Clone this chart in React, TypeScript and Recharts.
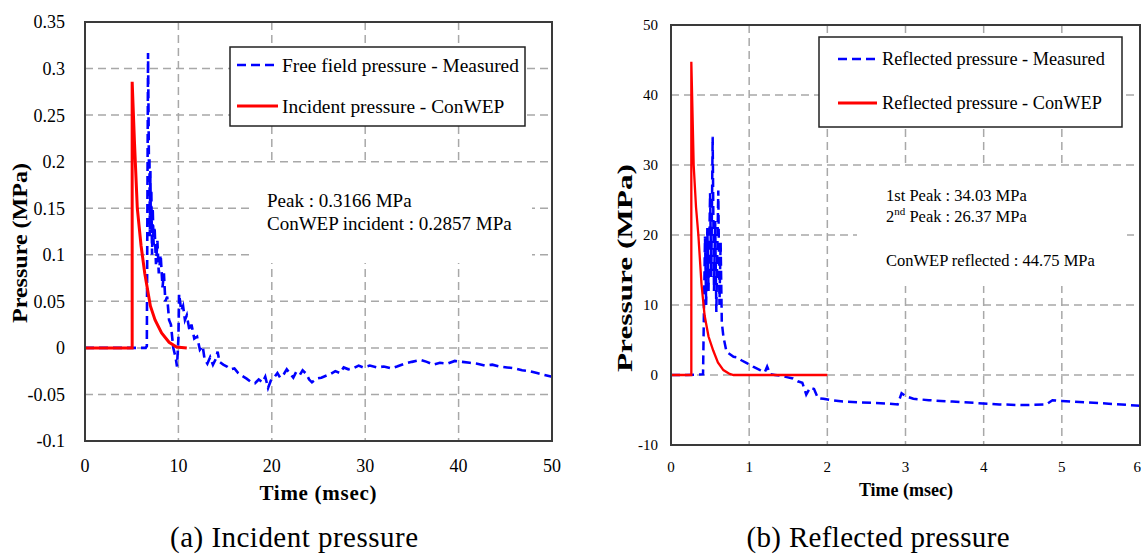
import React from "react";
import { LineChart, Line, XAxis, YAxis, CartesianGrid, Legend } from "recharts";

const FONT = '"Liberation Serif", "Times New Roman", Times, serif';
const BLUE = "#0000ff";
const RED = "#ff0000";
const GRID = "#a8a8a8";
const FRAME = "#3a3a3a";

// ---- (a) incident pressure: time in msec, pressure in MPa
const incidentXTicks = [0, 10, 20, 30, 40, 50];
const incidentYTicks = [-0.1, -0.05, 0, 0.05, 0.1, 0.15, 0.2, 0.25, 0.3, 0.35];

const freeFieldTime = [
  0, 6.5, 6.62, 6.75, 6.85, 6.9, 6.95, 7.0, 7.05, 7.1, 7.18, 7.25, 7.35, 7.45, 7.6, 7.75, 7.9, 8.1, 8.3,
  8.45, 8.6, 8.8, 9.0, 9.2, 9.45, 9.7, 9.85, 10.0, 10.08, 10.3, 10.5, 10.7, 10.9, 11.2, 11.4, 11.7,
  12.0, 12.3, 12.6, 12.8, 13.1, 13.4, 13.7, 14.0, 14.2, 14.4, 14.8, 15.2, 15.6, 16.0, 16.4, 16.8,
  17.3, 17.7, 18.2, 18.6, 19.0, 19.3, 19.6, 19.9, 20.3, 20.6, 20.9, 21.3, 21.6, 21.9, 22.3, 22.6,
  23.0, 23.3, 23.7, 24.0, 24.3, 24.8, 25.3, 25.8, 26.3, 26.8, 27.3, 27.7, 28.2, 28.7, 29.3, 29.8,
  30.5, 31.3, 32.0, 32.8, 33.4, 34.2, 35.0, 35.9, 36.6, 37.3, 38.0, 38.8, 39.6, 40.4, 41.2, 42.0,
  42.8, 43.6, 44.4, 45.2, 46.0, 46.8, 47.6, 48.4, 49.2, 50.0,
];
const freeFieldPressure = [
  0, 0, 0.002, 0.3166, 0.19, 0.205, 0.12, 0.19, 0.13, 0.17, 0.1, 0.15, 0.11, 0.13, 0.09, 0.115, 0.08,
  0.1, 0.065, 0.08, 0.05, 0.055, 0.03, 0.025, 0.0, -0.01, -0.02, 0.01, 0.058, 0.04, 0.045, 0.03,
  0.035, 0.018, 0.025, 0.01, 0.012, -0.002, 0.002, -0.012, -0.017, -0.01, -0.018, -0.012, -0.004,
  -0.015, -0.018, -0.02, -0.023, -0.022, -0.027, -0.03, -0.033, -0.036, -0.038, -0.034, -0.037,
  -0.031, -0.043, -0.035, -0.031, -0.027, -0.032, -0.028, -0.023, -0.027, -0.032, -0.026, -0.029,
  -0.024, -0.028, -0.034, -0.037, -0.033, -0.032, -0.03, -0.028, -0.025, -0.027, -0.021, -0.023,
  -0.022, -0.019, -0.021, -0.019, -0.021, -0.02, -0.022, -0.02, -0.017, -0.015, -0.013, -0.015,
  -0.018, -0.016, -0.017, -0.014, -0.015, -0.016, -0.017, -0.019, -0.018, -0.02, -0.021, -0.022,
  -0.024, -0.025, -0.027, -0.029, -0.031,
];

const incidentConwepTime = [0, 5.05, 5.05, 5.3, 5.6, 6.0, 6.4, 7.0, 7.5, 8.2, 9.0, 9.8, 10.9];
const incidentConwepPressure = [0, 0, 0.2857, 0.22, 0.15, 0.11, 0.08, 0.045, 0.03, 0.016, 0.006, 0.001, 0];

// ---- (b) reflected pressure: time in msec, pressure in MPa
const reflectedXTicks = [0, 1, 2, 3, 4, 5, 6];
const reflectedYTicks = [-10, 0, 10, 20, 30, 40, 50];

const reflectedTime = [
  0, 0.2, 0.41, 0.435, 0.45, 0.465, 0.48, 0.5, 0.515, 0.533, 0.55, 0.565, 0.58, 0.605, 0.62, 0.635,
  0.65, 0.67, 0.71, 0.75, 0.8, 0.85, 0.9, 0.97, 1.05, 1.14, 1.2, 1.23, 1.27, 1.33, 1.4, 1.48, 1.56,
  1.62, 1.68, 1.73, 1.78, 1.83, 1.88, 1.95, 2.05, 2.2, 2.4, 2.6, 2.8, 2.9, 2.95, 3.0, 3.1, 3.3, 3.6,
  3.9, 4.2, 4.5, 4.8, 4.88, 5.0, 5.3, 5.6, 6.0,
];
const reflectedPressure = [
  0, 0, 0.1, 19.8, 10, 21, 12, 26, 14, 34.03, 12, 22, 9, 26.37, 10, 19, 7.5, 5.5, 3.3, 3.0, 2.6, 2.5,
  2.1, 1.7, 1.2, 0.7, 0.4, 1.2, 0.1, 0.0, -0.1, -0.3, -0.5, -0.9, -1.1, -2.8, -1.8, -2.0, -3.3, -3.4,
  -3.6, -3.8, -3.9, -4.0, -4.1, -4.2, -2.6, -3.0, -3.4, -3.6, -3.8, -4.0, -4.2, -4.3, -4.2, -3.6,
  -3.7, -3.9, -4.1, -4.4,
];

const reflectedConwepTime = [0, 0.26, 0.26, 0.27, 0.29, 0.32, 0.35, 0.39, 0.43, 0.48, 0.54, 0.6, 0.67, 0.75, 0.8, 2.0];
const reflectedConwepPressure = [0, 0, 44.75, 40, 30, 24, 20, 13, 8.5, 5.5, 3.5, 1.8, 0.7, 0.15, 0, 0];

const pairs = (t: number[], p: number[]) => t.map((x, i) => ({ t: x, p: p[i] }));

type LegendBoxProps = {
  w: number;
  h: number;
  rows: { label: string; color: string; dashed: boolean; y: number }[];
  lineX: [number, number];
  textX: number;
  fontSize: number;
};

function LegendBox({ w, h, rows, lineX, textX, fontSize }: LegendBoxProps) {
  return (
    <svg width={w} height={h} style={{ display: "block" }}>
      <rect x={1} y={1} width={w - 2} height={h - 2} fill="#fff" stroke="#222" strokeWidth={1.5} />
      {rows.map((r) => (
        <g key={r.label}>
          <line
            x1={lineX[0]}
            x2={lineX[1]}
            y1={r.y}
            y2={r.y}
            stroke={r.color}
            strokeWidth={r.dashed ? 2.5 : 3}
            strokeDasharray={r.dashed ? "9 5" : undefined}
          />
          <text x={textX} y={r.y} dominantBaseline="central" fontFamily={FONT} fontSize={fontSize} fill="#000">
            {r.label}
          </text>
        </g>
      ))}
    </svg>
  );
}

function IncidentChart() {
  return (
    <div style={{ position: "absolute", left: 0, top: 0 }}>
      <LineChart width={570} height={555} margin={{ top: 22, right: 18, bottom: 84, left: 25 }}>
        <CartesianGrid stroke={GRID} strokeWidth={1.5} strokeDasharray="8 5" />
        <XAxis
          type="number"
          dataKey="t"
          domain={[0, 50]}
          ticks={incidentXTicks}
          height={30}
          axisLine={false}
          tickLine={false}
          tickSize={0}
          tickMargin={18}
          tick={{ fill: "#000", fontSize: 18, fontFamily: FONT }}
        />
        <YAxis
          type="number"
          domain={[-0.1, 0.35]}
          ticks={incidentYTicks}
          width={60}
          axisLine={false}
          tickLine={false}
          tickSize={0}
          tickMargin={20}
          tick={{ fill: "#000", fontSize: 18, fontFamily: FONT }}
        />
        <Legend
          layout="vertical"
          align="center"
          verticalAlign="middle"
          wrapperStyle={{ left: 229, top: 46, width: 297, height: 81 }}
          content={() => (
            <LegendBox
              w={297}
              h={81}
              lineX={[8, 49]}
              textX={53}
              fontSize={19.4}
              rows={[
                { label: "Free field pressure - Measured", color: BLUE, dashed: true, y: 19 },
                { label: "Incident pressure - ConWEP", color: RED, dashed: false, y: 60 },
              ]}
            />
          )}
        />
        <Line
          data={pairs(freeFieldTime, freeFieldPressure)}
          dataKey="p"
          type="linear"
          stroke={BLUE}
          strokeWidth={2.6}
          strokeDasharray="9 5"
          dot={false}
          isAnimationActive={false}
        />
        <Line
          data={pairs(incidentConwepTime, incidentConwepPressure)}
          dataKey="p"
          type="linear"
          stroke={RED}
          strokeWidth={3}
          dot={false}
          isAnimationActive={false}
        />
      </LineChart>
    </div>
  );
}

function ReflectedChart() {
  return (
    <div style={{ position: "absolute", left: 600, top: 0 }}>
      <LineChart width={541} height={555} margin={{ top: 25, right: 1, bottom: 80, left: 21 }}>
        <CartesianGrid stroke={GRID} strokeWidth={1.5} strokeDasharray="8 5" />
        <XAxis
          type="number"
          dataKey="t"
          domain={[0, 6]}
          ticks={reflectedXTicks}
          height={30}
          axisLine={false}
          tickLine={false}
          tickSize={0}
          tickMargin={16}
          tick={{ fill: "#000", fontSize: 15, fontFamily: FONT }}
        />
        <YAxis
          type="number"
          domain={[-10, 50]}
          ticks={reflectedYTicks}
          width={50}
          axisLine={false}
          tickLine={false}
          tickSize={0}
          tickMargin={13}
          tick={{ fill: "#000", fontSize: 15, fontFamily: FONT }}
        />
        <Legend
          layout="vertical"
          align="center"
          verticalAlign="middle"
          wrapperStyle={{ left: 218, top: 36, width: 305, height: 92 }}
          content={() => (
            <LegendBox
              w={305}
              h={92}
              lineX={[20, 59]}
              textX={64}
              fontSize={18.3}
              rows={[
                { label: "Reflected pressure - Measured", color: BLUE, dashed: true, y: 23 },
                { label: "Reflected pressure - ConWEP", color: RED, dashed: false, y: 67 },
              ]}
            />
          )}
        />
        <Line
          data={pairs(reflectedTime, reflectedPressure)}
          dataKey="p"
          type="linear"
          stroke={BLUE}
          strokeWidth={2.5}
          strokeDasharray="9 5"
          dot={false}
          isAnimationActive={false}
        />
        <Line
          data={pairs(reflectedConwepTime, reflectedConwepPressure)}
          dataKey="p"
          type="linear"
          stroke={RED}
          strokeWidth={2.3}
          dot={false}
          isAnimationActive={false}
        />
      </LineChart>
    </div>
  );
}

// frames, notes, axis titles and captions
function Overlay() {
  const t = { fontFamily: FONT, fill: "#000" } as const;
  return (
    <svg
      width={1141}
      height={555}
      style={{ position: "absolute", left: 0, top: 0, pointerEvents: "none" }}
    >
      <rect x={85} y={22} width={467} height={419} fill="none" stroke={FRAME} strokeWidth={2} />
      <rect x={671} y={25} width={469} height={420} fill="none" stroke={FRAME} strokeWidth={2} />

      <rect x={250} y={164} width={282} height={99} fill="#fff" />
      <text {...t} x={267} y={207} fontSize={19}>
        Peak : 0.3166 MPa
      </text>
      <text {...t} x={267} y={230} fontSize={19}>
        ConWEP incident : 0.2857 MPa
      </text>

      <rect x={857} y={168} width={270} height={118} fill="#fff" />
      <text {...t} x={886} y={201} fontSize={16.5}>
        1st Peak : 34.03 MPa
      </text>
      <text {...t} x={886} y={222} fontSize={16.5}>
        2<tspan fontSize={11} dy={-7}>nd</tspan>
        <tspan dy={7}> Peak : 26.37 MPa</tspan>
      </text>
      <text {...t} x={886} y={266} fontSize={16.5}>
        ConWEP reflected : 44.75 MPa
      </text>

      <text
        {...t}
        x={20}
        y={243}
        fontSize={20}
        fontWeight="bold"
        textAnchor="middle"
        dominantBaseline="central"
        transform="rotate(-90 20 243)"
        textLength={160}
        lengthAdjust="spacingAndGlyphs"
      >
        Pressure (MPa)
      </text>
      <text
        {...t}
        x={318}
        y={493}
        fontSize={21}
        fontWeight="bold"
        textAnchor="middle"
        dominantBaseline="central"
        textLength={117}
        lengthAdjust="spacing"
      >
        Time (msec)
      </text>
      <text {...t} x={294} y={547} fontSize={29} textAnchor="middle" textLength={248} lengthAdjust="spacing">
        (a) Incident pressure
      </text>

      <text
        {...t}
        x={625}
        y={268}
        fontSize={20}
        fontWeight="bold"
        textAnchor="middle"
        dominantBaseline="central"
        transform="rotate(-90 625 268)"
        textLength={208}
        lengthAdjust="spacingAndGlyphs"
      >
        Pressure (MPa)
      </text>
      <text {...t} x={906} y={490} fontSize={18} fontWeight="bold" textAnchor="middle" dominantBaseline="central">
        Time (msec)
      </text>
      <text {...t} x={878} y={547} fontSize={29} textAnchor="middle" textLength={263} lengthAdjust="spacing">
        (b) Reflected pressure
      </text>
    </svg>
  );
}

export default function App() {
  return (
    <div
      style={{
        position: "absolute",
        left: 0,
        top: 0,
        width: 1141,
        height: 555,
        background: "#fff",
        overflow: "hidden",
        fontFamily: FONT,
      }}
    >
      <IncidentChart />
      <ReflectedChart />
      <Overlay />
    </div>
  );
}
